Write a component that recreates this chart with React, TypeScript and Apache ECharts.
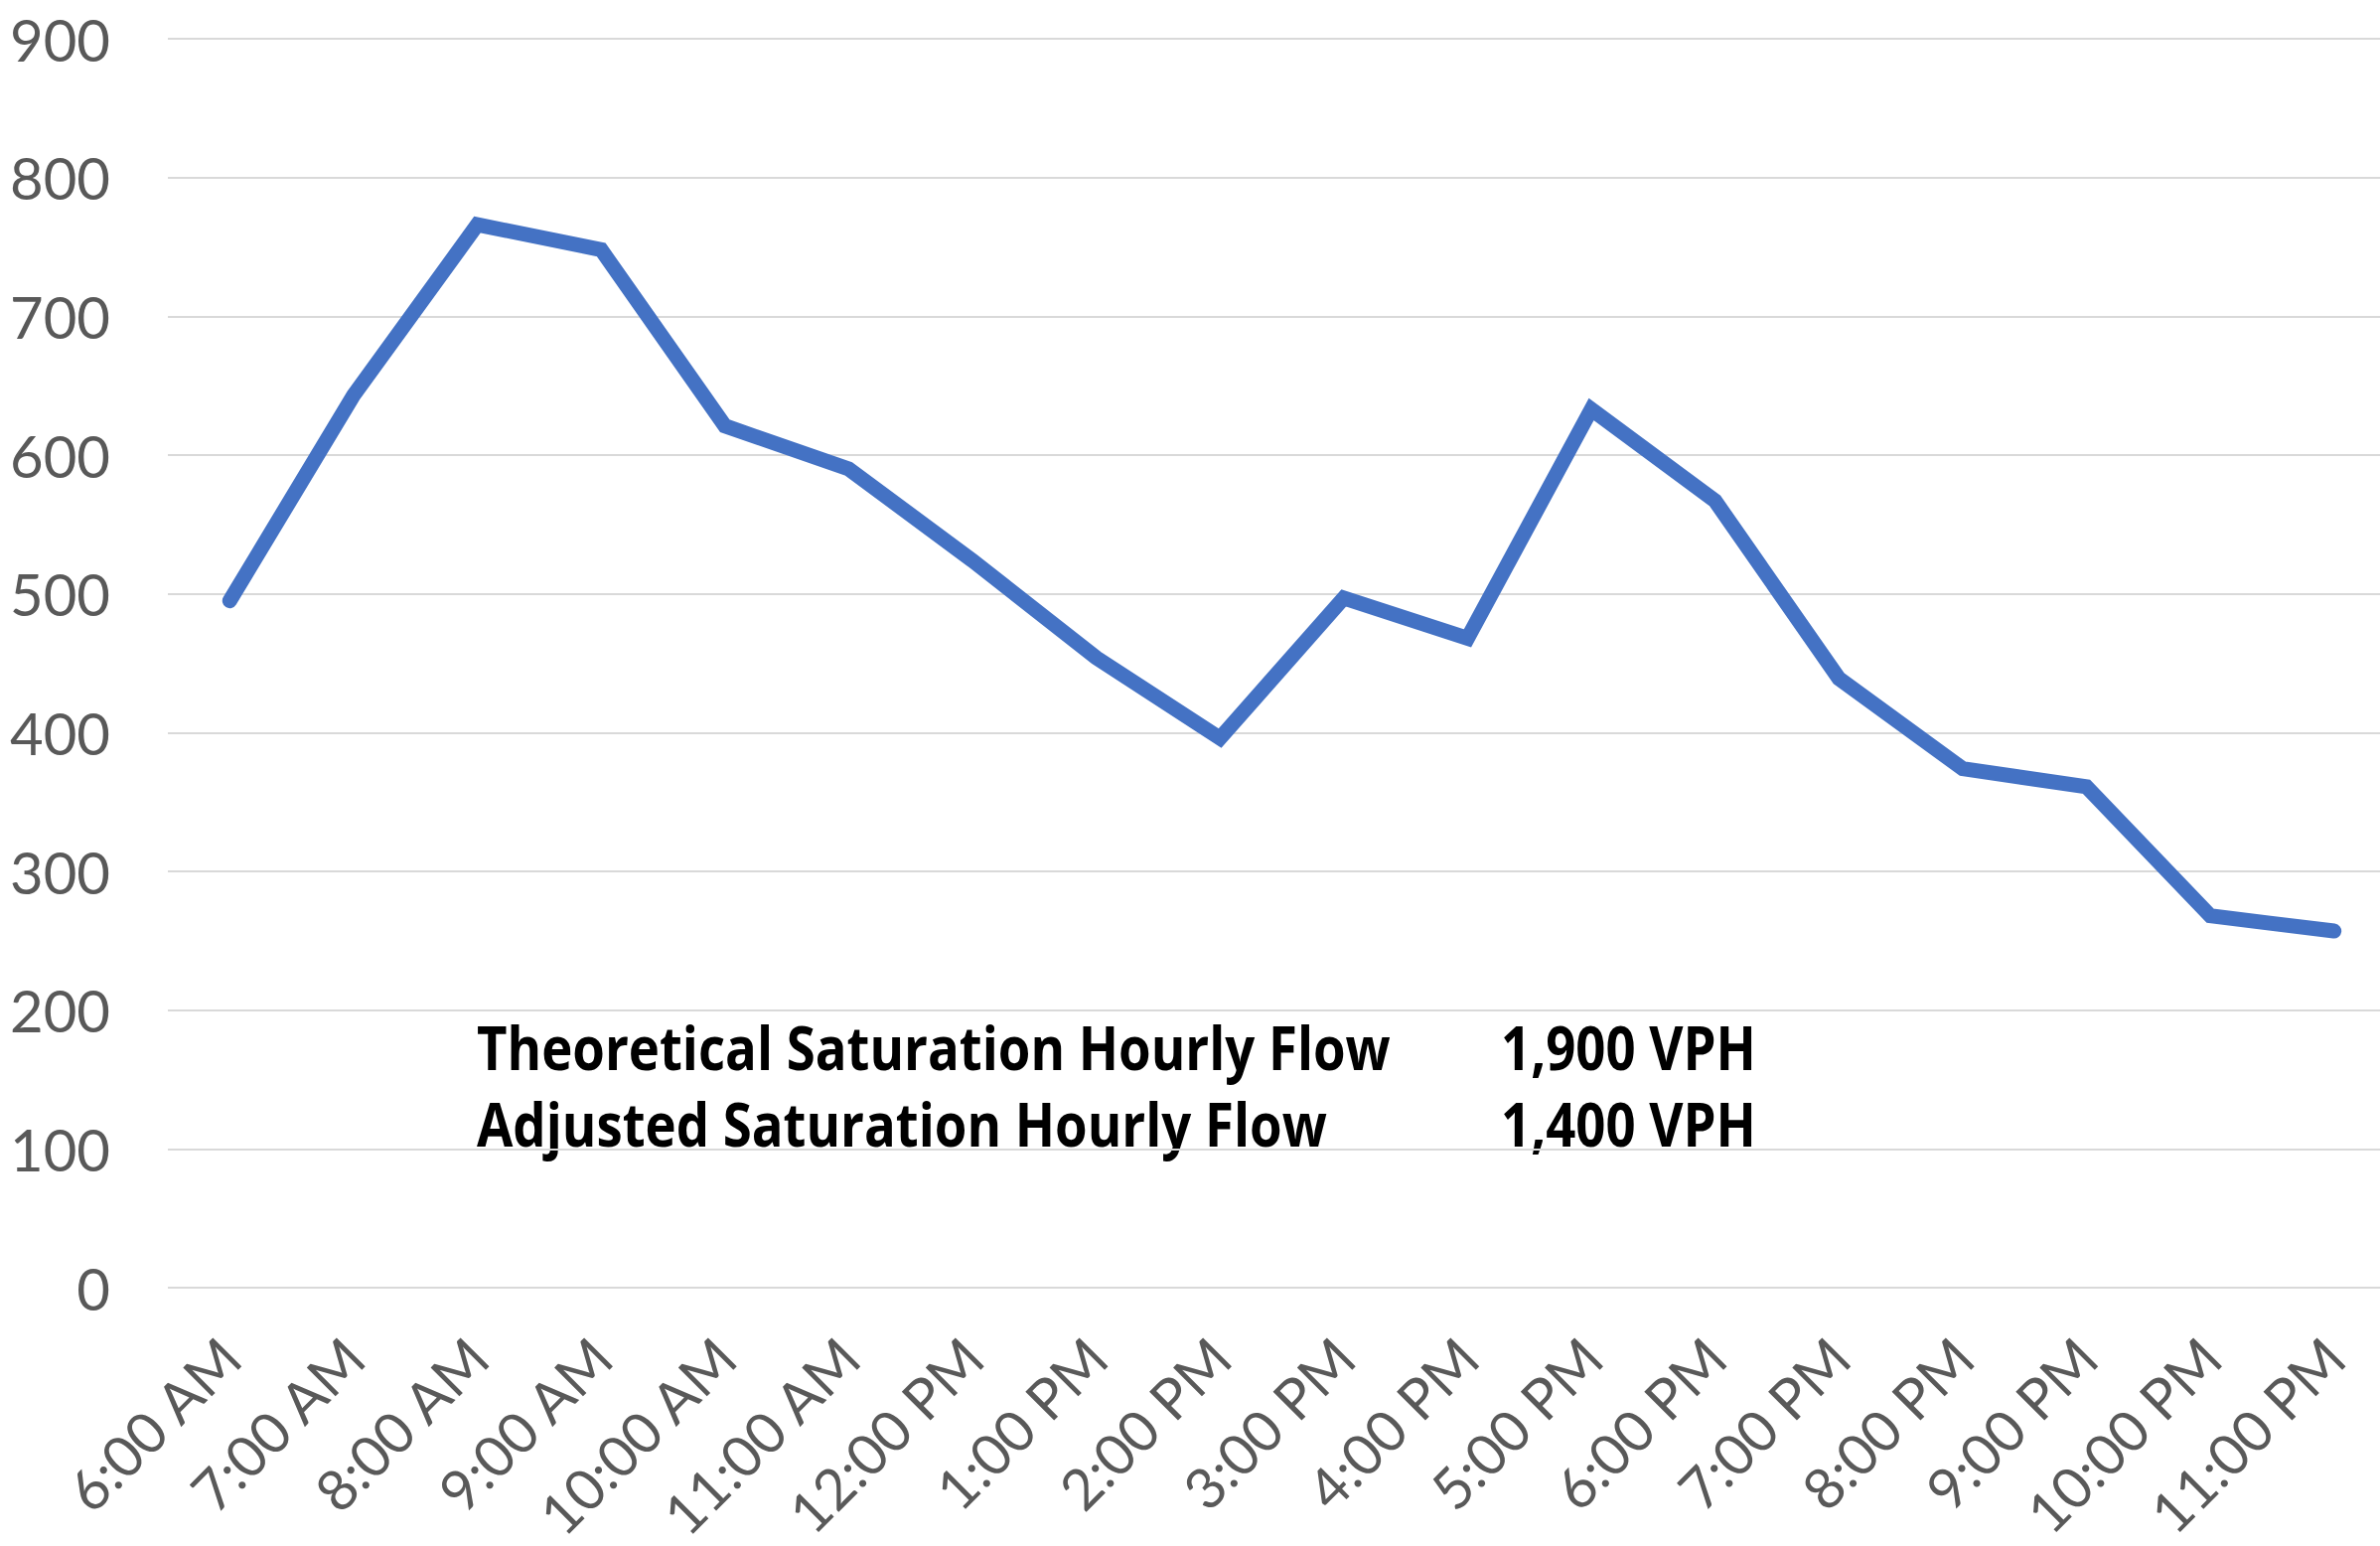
import React, { useEffect, useRef } from "react";
import * as echarts from "echarts";

const categories = [
  "6:00 AM", "7:00 AM", "8:00 AM", "9:00 AM", "10:00 AM", "11:00 AM",
  "12:00 PM", "1:00 PM", "2:00 PM", "3:00 PM", "4:00 PM", "5:00 PM",
  "6:00 PM", "7:00 PM", "8:00 PM", "9:00 PM", "10:00 PM", "11:00 PM",
];
const hourlyFlow = [495, 643, 766, 748, 621, 590, 524, 454, 396, 497, 468, 633, 567, 439, 374, 361, 268, 257];
const noteLabels = ["Theoretical Saturation Hourly Flow", "Adjusted Saturation Hourly Flow"];
const noteValues = ["1,900 VPH", "1,400 VPH"];

function measure(text: string, font: string): number {
  const c = document.createElement("canvas").getContext("2d");
  if (!c) return 0;
  c.font = font;
  return c.measureText(text).width;
}

export default function App() {
  const ref = useRef<HTMLDivElement>(null);
  useEffect(() => {
    if (!ref.current) return;
    const chart = echarts.init(ref.current, null, { renderer: "svg" });
    const fam = "Open Sans";
    const size = 61;
    const w = measure(noteLabels[0], `bold ${size}px "${fam}"`);
    const sx = w > 0 ? 920 / w : 0.85;
    const noteFont = {
      fontFamily: fam,
      fontWeight: "bold" as const,
      fontSize: size,
      fill: "#000000",
      verticalAlign: "middle" as const,
      align: "left" as const,
    };
    const graphics: any[] = [];
    noteLabels.forEach((t, i) => {
      const y = 1053 + i * 77;
      graphics.push({
        type: "text",
        x: 480,
        y,
        scaleX: sx,
        style: { ...noteFont, text: t },
      });
      graphics.push({
        type: "text",
        x: 1511,
        y,
        scaleX: sx,
        style: { ...noteFont, text: noteValues[i] },
      });
    });
    chart.setOption({
      animation: false,
      backgroundColor: "#ffffff",
      grid: {
        left: 169,
        top: 39,
        width: 2243,
        height: 1257,
        containLabel: false,
        outerBoundsMode: "none",
      },
      xAxis: {
        type: "category",
        data: categories,
        boundaryGap: true,
        axisLine: { show: false },
        axisTick: { show: false },
        axisLabel: {
          rotate: 45,
          interval: 0,
          margin: 60,
          color: "#595959",
          fontFamily: "Lato",
          fontSize: 57,
        },
      },
      yAxis: {
        type: "value",
        min: 0,
        max: 900,
        interval: 100,
        axisLine: { show: false },
        axisTick: { show: false },
        axisLabel: {
          margin: 58,
          color: "#595959",
          fontFamily: "Lato",
          fontSize: 58,
        },
        splitLine: { lineStyle: { color: "#d9d9d9", width: 2 } },
      },
      series: [
        {
          type: "line",
          data: hourlyFlow,
          showSymbol: false,
          lineStyle: { color: "#4472C4", width: 15, cap: "round", join: "miter" },
        },
      ],
      graphic: graphics,
    });
    return () => chart.dispose();
  }, []);
  return (
    <div
      ref={ref}
      style={{ position: "absolute", left: 0, top: 0, width: 2396, height: 1556, overflow: "hidden" }}
    />
  );
}
